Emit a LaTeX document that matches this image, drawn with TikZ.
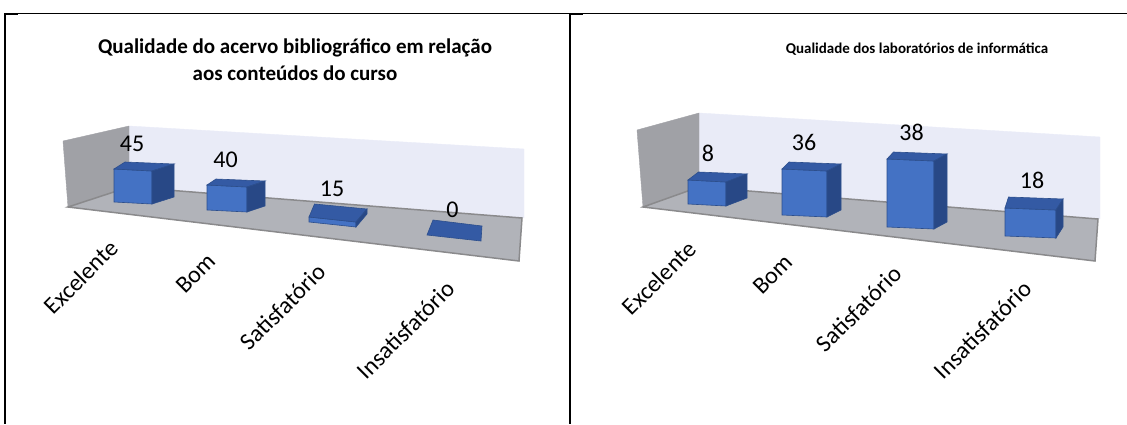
\documentclass[tikz,border=0pt]{standalone}
\usepackage{fontspec}
\setmainfont{Carlito}
\definecolor{barblue}{RGB}{68,114,196}
\definecolor{bartopblue}{RGB}{52,90,164}
\definecolor{barsideblue}{RGB}{40,72,134}
\definecolor{baredge}{RGB}{44,78,140}
\definecolor{backwall}{RGB}{233,235,247}
\definecolor{sidewall}{RGB}{160,161,166}
\definecolor{floorgray}{RGB}{177,179,185}
\definecolor{flooredge}{RGB}{138,138,140}

% front bottom left x, y, width, height, depth dx, dy, drop of the front edge
\newcommand{\colbar}[7]{%
  \filldraw[barfront] (#1,#2) -- ({#1+#3},{#2+#7}) -- ({#1+#3},{#2+#7-#4}) -- (#1,{#2-#4}) -- cycle;
  \filldraw[bartop] (#1,{#2-#4}) -- ({#1+#3},{#2+#7-#4}) -- ++(#5,#6) -- ({#1+#5/2},{#2-#4+#6}) -- cycle;
  \filldraw[barside] ({#1+#3},{#2+#7}) -- ({#1+#3},{#2+#7-#4}) -- ++(#5,#6) -- ({#1+#3+#5},{#2+#7+#6}) -- cycle;
}

\begin{document}
\begin{tikzpicture}[x=1pt, y=-1pt,
    barfront/.style={fill=barblue, draw=baredge, line width=0.6pt},
    bartop/.style={fill=bartopblue, draw=baredge, line width=0.6pt},
    barside/.style={fill=barsideblue, draw=baredge, line width=0.6pt},
    datalbl/.style={font=\fontsize{24}{28}\selectfont, inner sep=0pt},
    catlbl/.style={font=\fontsize{24}{28}\selectfont, inner sep=0pt, rotate=45, anchor=east},
    titlelbl/.style={font=\bfseries\fontsize{21}{27}\selectfont, inner sep=0pt, anchor=base}]
  \useasboundingbox (0,0) rectangle (1127,424);

  % frame
  \draw[line width=1pt] (4,13.5) -- (1127,13.5);
  \draw[line width=2pt] (5,13) -- (5,424);
  \draw[line width=2pt] (570,13) -- (570,424);
  \draw[line width=2pt] (4,14) -- (18,14);
  \draw[line width=2pt] (569,14) -- (583,14);

  % left chart
  \node[titlelbl] (titleA) at (295,53) {Qualidade do acervo bibliográfico em relação};
  \node[titlelbl] (titleAb) at (295,80) {aos conteúdos do curso};
  \filldraw[fill=backwall, draw=backwall] (129,126) -- (524,149) -- (524,218) -- (129,187) -- cycle;
  \filldraw[fill=sidewall, draw=sidewall] (63,141) -- (129,126) -- (129,187) -- (68,207) -- cycle;
  \filldraw[fill=floorgray, draw=flooredge, line width=1.5pt] (68,207) -- (129,187) -- (522,218) -- (519,261) -- cycle;
  \colbar{114}{202}{38}{33}{22}{-7}{2}
  \colbar{207}{210}{40}{25}{18}{-6}{2}
  \colbar{309}{222}{47}{5}{11}{-13}{5}
  \filldraw[bartop] (427,235) -- (433,220) -- (482,226) -- (481,241) -- cycle;
  \foreach \v/\x/\y [count=\i] in {45/132/143.5, 40/225.5/159.5, 15/332/189, 0/452.5/209.5}
    \node[datalbl] (vA\i) at (\x,\y) {\v};
  \foreach \c/\x/\y [count=\i] in {Excelente/114/244, Bom/212/257, Satisfatório/322/268, Insatisfatório/451/285}
    \node[catlbl] (cA\i) at (\x,\y) {\c};

  % right chart
  \node[titlelbl, font=\bfseries\fontsize{15}{18}\selectfont] (titleB) at (917,53) {Qualidade dos laboratórios de informática};
  \filldraw[fill=backwall, draw=backwall] (699,113) -- (1100,137) -- (1100,219) -- (699,187) -- cycle;
  \filldraw[fill=sidewall, draw=sidewall] (637,130) -- (699,113) -- (699,187) -- (643,207) -- cycle;
  \filldraw[fill=floorgray, draw=flooredge, line width=1.5pt] (643,207) -- (699,187) -- (1098,219) -- (1095,261) -- cycle;
  \colbar{688}{204}{38}{24}{21}{-8}{2}
  \colbar{782}{215}{45}{46}{14}{-7}{2}
  \colbar{887}{227}{47}{68}{13}{-7}{2}
  \colbar{1005}{236}{51}{28}{7}{-11}{2}
  \foreach \v/\x/\y [count=\i] in {8/708/153.5, 36/804/142.5, 38/911.5/132.5, 18/1032/180.5}
    \node[datalbl] (vB\i) at (\x,\y) {\v};
  \foreach \c/\x/\y [count=\i] in {Excelente/692/245, Bom/789/258, Satisfatório/898/270, Insatisfatório/1028/285}
    \node[catlbl] (cB\i) at (\x,\y) {\c};
\end{tikzpicture}
\end{document}
